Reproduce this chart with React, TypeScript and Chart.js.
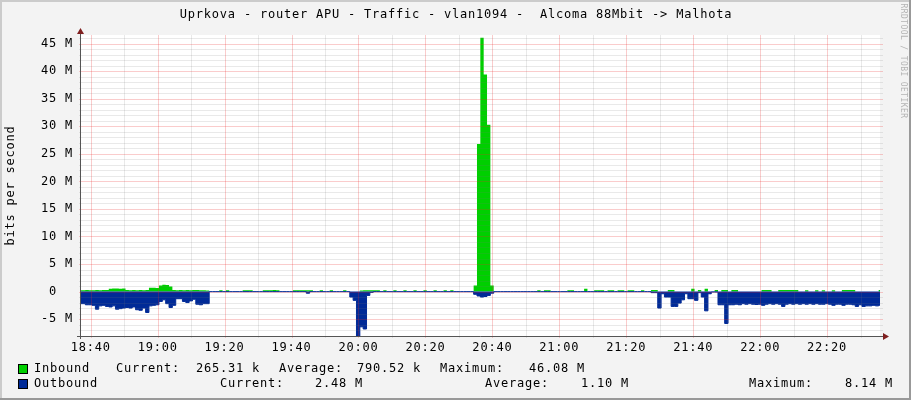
import React, { useEffect, useRef } from 'react';
import { Chart, registerables } from 'chart.js';

Chart.register(...registerables);

const TITLE = 'Uprkova - router APU - Traffic - vlan1094 -  Alcoma 88Mbit -> Malhota';
const Y_TITLE = 'bits per second';
const WATERMARK = 'RRDTOOL / TOBI OETIKER';

// one sample per minute; first sample at 18:36:24 (minutes after 18:00)
const START_MINUTE = 36.4;

// Inbound traffic, Mbit/s
const inboundM = [
  0.25, 0.25, 0.3, 0.25, 0.25, 0.3, 0.25, 0.3, 0.3, 0.5,
  0.55, 0.55, 0.5, 0.55, 0.3, 0.25, 0.3, 0.25, 0.3, 0.25,
  0.3, 0.7, 0.7, 0.65, 1.1, 1.25, 1.2, 0.9, 0.3, 0.25,
  0.3, 0.25, 0.3, 0.25, 0.3, 0.3, 0.25, 0.25, 0.2, 0,
  0, 0, 0.25, 0, 0.25, 0, 0, 0, 0, 0.25,
  0.25, 0.25, 0, 0, 0, 0.25, 0.25, 0.25, 0.3, 0.25,
  0, 0, 0, 0, 0.25, 0.25, 0.25, 0.25, 0.25, 0.25,
  0, 0, 0.25, 0, 0, 0.25, 0, 0, 0, 0.25,
  0, 0, 0, 0, 0.2, 0.25, 0.25, 0.25, 0.25, 0.25,
  0, 0.25, 0, 0, 0.25, 0, 0, 0.25, 0, 0,
  0.25, 0, 0, 0.25, 0, 0, 0.25, 0, 0, 0.25,
  0, 0.25, 0, 0, 0, 0, 0, 0, 1.1, 26.8,
  46.08, 39.4, 30.3, 1.1, 0, 0, 0, 0, 0, 0,
  0, 0, 0, 0, 0, 0, 0, 0.25, 0, 0.25,
  0.25, 0, 0, 0, 0, 0, 0.25, 0.25, 0, 0,
  0, 0.5, 0, 0, 0.25, 0.25, 0.25, 0, 0.25, 0.25,
  0, 0.25, 0.25, 0, 0.25, 0.25, 0, 0, 0.25, 0,
  0, 0.3, 0.3, 0, 0, 0, 0.3, 0.3, 0, 0,
  0, 0, 0, 0.5, 0, 0.3, 0, 0.5, 0, 0,
  0.3, 0, 0.3, 0.3, 0, 0.3, 0.3, 0, 0, 0,
  0, 0, 0, 0, 0.3, 0.3, 0.3, 0, 0, 0.3,
  0.3, 0.3, 0.3, 0.3, 0.3, 0, 0, 0.25, 0, 0,
  0.25, 0, 0.25, 0, 0, 0.25, 0, 0, 0.3, 0.3,
  0.3, 0.3, 0, 0, 0, 0, 0, 0, 0, 0.27,
  0.27,
];

// Outbound traffic, Mbit/s (drawn below zero)
const outboundM = [
  2.2, 2.2, 2.4, 2.4, 2.5, 3.2, 2.6, 2.5, 2.7, 2.8,
  2.6, 3.2, 3.1, 3.0, 2.9, 3.0, 2.8, 3.3, 3.4, 3.0,
  3.8, 2.6, 2.5, 2.4, 1.8, 1.5, 2.2, 2.9, 2.5, 1.3,
  1.3, 1.8, 2.0, 1.7, 1.4, 2.3, 2.4, 2.2, 2.2, 0.02,
  0.02, 0.02, 0.02, 0.02, 0.02, 0.02, 0.02, 0.02, 0.02, 0.02,
  0.02, 0.02, 0.02, 0.02, 0.02, 0.02, 0.02, 0.02, 0.02, 0.02,
  0.02, 0.02, 0.02, 0.02, 0.02, 0.02, 0.02, 0.02, 0.3, 0.02,
  0.02, 0.02, 0.02, 0.02, 0.02, 0.02, 0.02, 0.02, 0.02, 0.02,
  0.02, 1.0, 1.6, 8.14, 6.4, 6.8, 0.7, 0.15, 0.02, 0.02,
  0.02, 0.02, 0.02, 0.02, 0.02, 0.02, 0.02, 0.02, 0.02, 0.02,
  0.02, 0.02, 0.02, 0.02, 0.02, 0.02, 0.02, 0.02, 0.02, 0.02,
  0.02, 0.02, 0.02, 0.02, 0.02, 0.02, 0.02, 0.02, 0.5, 0.8,
  1.0, 0.9, 0.7, 0.3, 0.02, 0.02, 0.02, 0.02, 0.02, 0.02,
  0.02, 0.02, 0.02, 0.02, 0.02, 0.02, 0.02, 0.02, 0.02, 0.02,
  0.02, 0.02, 0.02, 0.02, 0.02, 0.02, 0.02, 0.02, 0.02, 0.02,
  0.02, 0.02, 0.02, 0.02, 0.02, 0.02, 0.02, 0.02, 0.02, 0.02,
  0.02, 0.02, 0.02, 0.02, 0.02, 0.02, 0.02, 0.02, 0.02, 0.02,
  0.02, 0.2, 0.2, 3.0, 0.4, 1.0, 1.0, 2.7, 2.7, 2.1,
  1.5, 0.4, 1.3, 1.3, 1.6, 0.2, 1.0, 3.5, 0.4, 0.1,
  0.1, 2.4, 2.4, 5.8, 2.4, 2.4, 2.3, 2.4, 2.2, 2.3,
  2.2, 2.3, 2.35, 2.3, 2.5, 2.3, 2.2, 2.3, 2.2, 2.3,
  2.7, 2.3, 2.2, 2.3, 2.2, 2.3, 2.2, 2.3, 2.2, 2.3,
  2.2, 2.3, 2.3, 2.2, 2.3, 2.5, 2.3, 2.3, 2.5, 2.3,
  2.3, 2.4, 2.7, 2.4, 2.7, 2.6, 2.6, 2.5, 2.6, 2.48,
  2.48,
];

// axis ticks
const xGridMinutes = [40, 50, 60, 70, 80, 90, 100, 110, 120, 130, 140, 150, 160, 170, 180, 190, 200, 210, 220, 230, 240, 250, 260, 270];
const xLabelMinutes = [40, 60, 80, 100, 120, 140, 160, 180, 200, 220, 240, 260];
const xTickLabels = ['18:40', '19:00', '19:20', '19:40', '20:00', '20:20', '20:40', '21:00', '21:20', '21:40', '22:00', '22:20'];
const yGridValues = [-8, -7, -6, -5, -4, -3, -2, -1, 0, 1, 2, 3, 4, 5, 6, 7, 8, 9, 10, 11, 12, 13, 14, 15, 16, 17, 18, 19, 20, 21, 22, 23, 24, 25, 26, 27, 28, 29, 30, 31, 32, 33, 34, 35, 36, 37, 38, 39, 40, 41, 42, 43, 44, 45, 46];
const yLabelValues = [-5, 0, 5, 10, 15, 20, 25, 30, 35, 40, 45];
const yTickLabels = ['-5 M', '0  ', '5 M', '10 M', '15 M', '20 M', '25 M', '30 M', '35 M', '40 M', '45 M'];

// legend
const legendNames = ['Inbound', 'Outbound'];
const legendCurrent = ['265.31 k', '2.48 M'];
const legendAverage = ['790.52 k', '1.10 M'];
const legendMaximum = ['46.08 M', '8.14 M'];

const IN_COLOR = '#00CF00';
const OUT_COLOR = '#002A97';
const FAMILY = '"DejaVu Sans Mono", monospace';
const FONT = '12px ' + FAMILY;
const LS = '0.78px';
const MINOR = 'rgba(120,120,120,0.16)';
const MAJOR = 'rgba(235,40,40,0.24)';

function drawGrid(chart: any) {
  const { ctx, chartArea: a, scales } = chart;
  const xs = scales.x;
  const ys = scales.y;
  ctx.save();
  ctx.lineWidth = 1;
  ctx.setLineDash([]);
  const pass = (major: boolean) => {
    ctx.strokeStyle = major ? MAJOR : MINOR;
    ctx.beginPath();
    for (const v of xGridMinutes) {
      if ((v % 20 === 0) !== major) continue;
      const px = Math.round(xs.getPixelForValue(v)) + 0.5;
      ctx.moveTo(px, a.top);
      ctx.lineTo(px, a.bottom + 2);
    }
    for (const v of yGridValues) {
      if ((v % 5 === 0) !== major) continue;
      const py = Math.round(ys.getPixelForValue(v)) + 0.5;
      ctx.moveTo(a.left - 2, py);
      ctx.lineTo(a.right + 3, py);
    }
    ctx.stroke();
  };
  pass(false);
  pass(true);
  ctx.restore();
}

const decor = {
  id: 'rrdDecor',
  beforeDraw(chart: any) {
    const { ctx, chartArea: a, width, height } = chart;
    ctx.save();
    ctx.fillStyle = '#F3F3F3';
    ctx.fillRect(0, 0, width, height);
    ctx.fillStyle = '#CBCBCB';
    ctx.fillRect(0, 0, width, 2);
    ctx.fillRect(0, 0, 2, height);
    ctx.fillStyle = '#999999';
    ctx.fillRect(0, height - 2, width, 2);
    ctx.fillRect(width - 2, 0, 2, height);
    ctx.fillStyle = '#FFFFFF';
    ctx.fillRect(a.left, a.top, a.right - a.left, a.bottom - a.top);
    ctx.restore();
    (ctx as any).letterSpacing = LS;
  },
  afterDraw(chart: any) {
    const { ctx, chartArea: a } = chart;
    drawGrid(chart);
    ctx.save();
    (ctx as any).letterSpacing = LS;
    // axes
    ctx.setLineDash([]);
    ctx.strokeStyle = '#555555';
    ctx.lineWidth = 1;
    ctx.beginPath();
    ctx.moveTo(a.left - 0.5, a.bottom + 3);
    ctx.lineTo(a.left - 0.5, a.top - 4);
    ctx.moveTo(a.left - 4, a.bottom + 0.5);
    ctx.lineTo(a.right + 4, a.bottom + 0.5);
    ctx.stroke();
    // arrows
    ctx.fillStyle = '#7F1F1F';
    ctx.beginPath();
    ctx.moveTo(a.left - 4, a.top - 1);
    ctx.lineTo(a.left + 3, a.top - 1);
    ctx.lineTo(a.left - 0.5, a.top - 7);
    ctx.closePath();
    ctx.fill();
    ctx.beginPath();
    ctx.moveTo(a.right + 3, a.bottom - 3);
    ctx.lineTo(a.right + 3, a.bottom + 4);
    ctx.lineTo(a.right + 9, a.bottom + 0.5);
    ctx.closePath();
    ctx.fill();

    // title
    ctx.font = FONT;
    ctx.fillStyle = '#000000';
    ctx.textAlign = 'center';
    ctx.textBaseline = 'middle';
    ctx.fillText(TITLE, 456, 15);

    // y axis title
    ctx.save();
    ctx.translate(11, (a.top + a.bottom) / 2);
    ctx.rotate(-Math.PI / 2);
    ctx.fillText(Y_TITLE, 0, 0);
    ctx.restore();

    // watermark
    ctx.save();
    ctx.font = '8px ' + FAMILY;
    (ctx as any).letterSpacing = '0.4px';
    ctx.fillStyle = '#B4B4B4';
    ctx.translate(903.5, 61);
    ctx.rotate(Math.PI / 2);
    ctx.fillText(WATERMARK, 0, 0);
    ctx.restore();

    // legend
    const rows = [368.5, 384];
    const colors = [IN_COLOR, OUT_COLOR];
    const cols = [
      [116, 196, 279, 357, 440, 529],
      [220, 315, 485, 581, 749, 845],
    ];
    ctx.textAlign = 'left';
    for (let r = 0; r < 2; r++) {
      const y = rows[r];
      ctx.fillStyle = colors[r];
      ctx.fillRect(18, Math.round(y) - 5, 10, 10);
      ctx.strokeStyle = '#000000';
      ctx.strokeRect(18.5, Math.round(y) - 4.5, 9, 9);
      ctx.fillStyle = '#000000';
      ctx.fillText(legendNames[r], 34, y);
      const c = cols[r];
      ctx.fillText('Current:', c[0], y);
      ctx.fillText(legendCurrent[r], c[1], y);
      ctx.fillText('Average:', c[2], y);
      ctx.fillText(legendAverage[r], c[3], y);
      ctx.fillText('Maximum:', c[4], y);
      ctx.fillText(legendMaximum[r], c[5], y);
    }
    ctx.restore();
    (ctx as any).letterSpacing = '0px';
  },
};

export default function App() {
  const ref = useRef<HTMLCanvasElement | null>(null);
  useEffect(() => {
    document.body.style.margin = '0';
    const canvas = ref.current;
    if (!canvas) return;
    const inData = inboundM.map((v, i) => ({ x: START_MINUTE + i, y: v }));
    const outData = outboundM.map((v, i) => ({ x: START_MINUTE + i, y: -v }));
    const chart = new Chart(canvas, {
      type: 'line',
      data: {
        datasets: [
          {
            label: 'Inbound',
            data: inData,
            stepped: 'before',
            fill: 'origin',
            backgroundColor: IN_COLOR,
            borderColor: 'rgba(0,0,0,0)',
            borderWidth: 1,
            pointRadius: 0,
            order: 2,
          },
          {
            label: 'Outbound',
            data: outData,
            stepped: 'before',
            fill: 'origin',
            backgroundColor: OUT_COLOR,
            borderColor: OUT_COLOR,
            borderWidth: 1,
            pointRadius: 0,
            order: 1,
          },
        ],
      },
      options: {
        responsive: false,
        animation: false,
        devicePixelRatio: 1,
        events: [],
        layout: { padding: { top: 35, right: 31, bottom: 0, left: 0 } },
        plugins: {
          legend: { display: false },
          title: { display: false },
          tooltip: { enabled: false },
        },
        scales: {
          x: {
            type: 'linear',
            bounds: 'data',
            min: 37.1,
            max: 275.8,
            afterBuildTicks: (s: any) => {
              s.ticks = xGridMinutes.map((v) => ({ value: v }));
            },
            afterFit: (s: any) => {
              s.height = 64;
            },
            ticks: {
              autoSkip: false,
              maxRotation: 0,
              minRotation: 0,
              padding: 5,
              color: '#000000',
              font: { family: FAMILY, size: 12 },
              callback: (v: any) => {
                const k = xLabelMinutes.indexOf(Number(v));
                return k >= 0 ? xTickLabels[k] : '';
              },
            },
            grid: { display: false, drawTicks: false },
            border: { display: false },
          },
          y: {
            type: 'linear',
            bounds: 'data',
            min: -8.07,
            max: 46.58,
            afterBuildTicks: (s: any) => {
              s.ticks = yGridValues.map((v) => ({ value: v }));
            },
            afterFit: (s: any) => {
              s.width = 81;
            },
            ticks: {
              autoSkip: false,
              padding: 8,
              color: '#000000',
              font: { family: FAMILY, size: 12 },
              callback: (v: any) => {
                const k = yLabelValues.indexOf(Number(v));
                return k >= 0 ? yTickLabels[k] : '';
              },
            },
            grid: { display: false, drawTicks: false },
            border: { display: false },
          },
        },
      },
      plugins: [decor],
    } as any);
    return () => chart.destroy();
  }, []);
  return (
    <div style={{ width: 911, height: 400 }}>
      <canvas ref={ref} width={911} height={400} style={{ display: 'block', width: 911, height: 400 }} />
    </div>
  );
}
